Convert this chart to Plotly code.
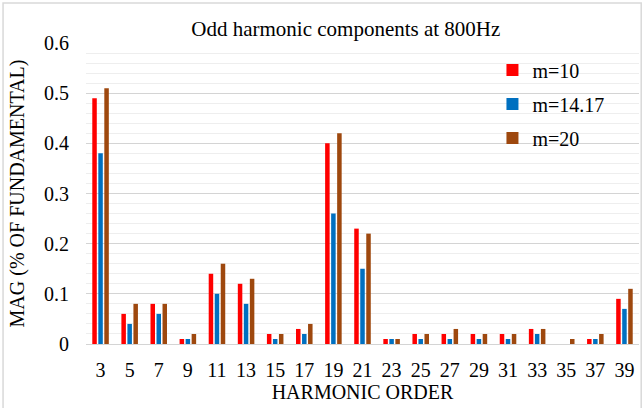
import plotly.graph_objects as go

# harmonic orders and magnitudes (% of fundamental)
orders = ["3", "5", "7", "9", "11", "13", "15", "17", "19", "21",
          "23", "25", "27", "29", "31", "33", "35", "37", "39"]
m10 = [0.49, 0.06, 0.08, 0.01, 0.14, 0.12, 0.02, 0.03, 0.40, 0.23,
       0.01, 0.02, 0.02, 0.02, 0.02, 0.03, 0.00, 0.01, 0.09]
m1417 = [0.38, 0.04, 0.06, 0.01, 0.10, 0.08, 0.01, 0.02, 0.26, 0.15,
         0.01, 0.01, 0.01, 0.01, 0.01, 0.02, 0.00, 0.01, 0.07]
m20 = [0.51, 0.08, 0.08, 0.02, 0.16, 0.13, 0.02, 0.04, 0.42, 0.22,
       0.01, 0.02, 0.03, 0.02, 0.02, 0.03, 0.01, 0.02, 0.11]

series = [("m=10", m10, "#FF0000"),
          ("m=14.17", m1417, "#0070C0"),
          ("m=20", m20, "#9E480E")]

FONT = "Liberation Serif, serif"


def serif(size):
    return dict(family=FONT, size=size, color="black")


fig = go.Figure()
for name, vals, color in series:
    fig.add_trace(go.Bar(
        x=orders, y=vals, name=name, legendgroup=name,
        marker=dict(color=color, line=dict(width=0)),
    ))

fig.update_layout(
    width=644, height=408,
    margin=dict(l=86, r=5, t=43, b=64, autoexpand=False),
    paper_bgcolor="white", plot_bgcolor="white",
    font=serif(20),
    barmode="group", bargap=0.38, bargroupgap=0.25,
    title=dict(text="Odd harmonic components at 800Hz", x=0.537, xanchor="center",
               y=0.93, yanchor="middle", font=serif(21)),
    legend=dict(x=0.735, y=0.975, xanchor="left", yanchor="top",
                bgcolor="rgba(0,0,0,0)", font=serif(20),
                tracegroupgap=5, itemwidth=30),
    showlegend=True,
)

fig.update_xaxes(
    title=dict(text="HARMONIC ORDER", font=serif(20), standoff=4),
    tickfont=serif(20), ticklabelstandoff=12,
    showgrid=False, showline=False, ticks="",
    automargin=False,
)
fig.update_yaxes(
    title=dict(text="MAG (% OF FUNDAMENTAL)", font=serif(20), standoff=14),
    range=[0, 0.6], dtick=0.1, tickformat="~g",
    tickfont=serif(20), ticklabelstandoff=16,
    showgrid=True, gridcolor="#D4D4D4", gridwidth=1.2,
    minor=dict(dtick=0.02, showgrid=True, gridcolor="#EEEEEE", gridwidth=1),
    zeroline=True, zerolinecolor="#D4D4D4", zerolinewidth=1.2,
    automargin=False,
)

# light outer frame
fig.add_shape(type="rect", xref="paper", yref="paper",
              x0=-0.150, x1=1.004, y0=-0.3, y1=1.133,
              line=dict(color="#D9D9D9", width=1.5), layer="below")

fig.write_html("out.html", config={"displayModeBar": False},
               post_script="document.body.style.margin='0';")
